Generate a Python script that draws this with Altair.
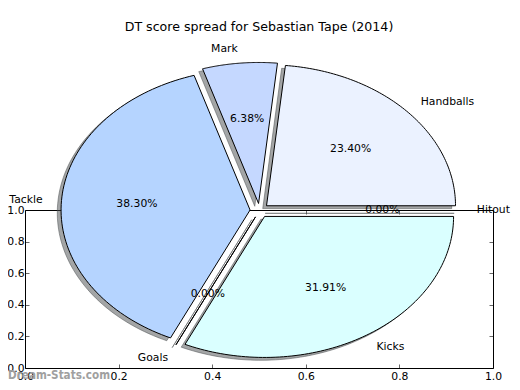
import altair as alt
import pandas as pd

# ---- data ----
labels = ["Handballs", "Mark", "Tackle", "Goals", "Kicks", "Hitout"]
values = [11, 3, 18, 0, 15, 0]
colors = ["#ebf2ff", "#c5d8ff", "#b5d4ff", "#c0d8ff", "#daffff", "#e0ecff"]
frame_ticks = [0.0, 0.2, 0.4, 0.6, 0.8, 1.0]
title_text = "DT score spread for Sebastian Tape (2014)"
watermark = "Dream-Stats.com"

N = 90  # arc samples per wedge
W, H = 468, 158
XD = [-1.2407, 1.2354]
YD = [-1.117, 0.0035]
FONT = "DejaVu Sans"
EXPLODE = 0.05

slices = pd.DataFrame({
    "label": labels,
    "value": values,
    "idx": list(range(len(labels))),
    "ks": [list(range(N + 3)) for _ in labels],
})

def base_tf(ch):
    return (ch.transform_joinaggregate(total="sum(value)")
              .transform_window(cum="sum(value)", sort=[alt.SortField("idx")], frame=[None, 0])
              .transform_calculate(
                  a0="2*PI*(datum.cum-datum.value)/datum.total",
                  a1="2*PI*datum.cum/datum.total")
              .transform_calculate(mid="(datum.a0+datum.a1)/2"))

xs = alt.Scale(domain=XD, nice=False, zero=False)
ys = alt.Scale(domain=YD, nice=False, zero=False)

def wedge_layer(dx, dy, shadow):
    ch = base_tf(alt.Chart(slices))
    ch = (ch.transform_flatten(["ks"], as_=["k"])
            .transform_calculate(
                t=f"clamp((datum.k-1)/{N},0,1)",
                r=f"(datum.k==0 || datum.k=={N+2}) ? 0 : 1")
            .transform_calculate(ang="datum.a0+(datum.a1-datum.a0)*datum.t")
            .transform_calculate(
                px=f"{EXPLODE}*cos(datum.mid)+datum.r*cos(datum.ang)+({dx})",
                py=f"{EXPLODE}*sin(datum.mid)+datum.r*sin(datum.ang)+({dy})"))
    if shadow:
        m = ch.mark_line(fill="#484c4d", fillOpacity=0.5, stroke="#484c4d",
                         strokeOpacity=0.5, strokeWidth=1, interpolate="linear")
        enc = dict(detail="label:N")
    else:
        m = ch.mark_line(stroke="black", strokeWidth=1, interpolate="linear")
        enc = dict(fill=alt.Fill("label:N", scale=alt.Scale(domain=labels, range=colors), legend=None),
                   detail="label:N")
    return m.encode(
        x=alt.X("px:Q", scale=xs, axis=None),
        y=alt.Y("py:Q", scale=ys, axis=None),
        order=alt.Order("k:Q"),
        **enc)

shadows = wedge_layer(-0.02, -0.02, True)
wedges = wedge_layer(0, 0, False)

def text_layer(dist, kind, align=None, flt=None):
    ch = base_tf(alt.Chart(slices)).transform_calculate(
        lx=f"{dist}*cos(datum.mid)", ly=f"{dist}*sin(datum.mid)",
        pct="format(100*datum.value/datum.total,'.2f')+'%'")
    if flt:
        ch = ch.transform_filter(flt)
    m = ch.mark_text(font=FONT, fontSize=10.8, color="black",
                     align=align or "center", baseline="middle")
    return m.encode(x=alt.X("lx:Q", scale=xs, axis=None),
                    y=alt.Y("ly:Q", scale=ys, axis=None),
                    text=alt.Text(f"{kind}:N"))

lab_left = text_layer(1.1 + EXPLODE, "label", "left", "datum.lx > 0")
lab_right = text_layer(1.1 + EXPLODE, "label", "right", "datum.lx <= 0")
pct = text_layer(0.6 + EXPLODE, "pct")

tick_df = pd.DataFrame({"v": frame_ticks})
fx = alt.Scale(domain=[0, 1], nice=False, zero=False)
common_axis = dict(tickSize=4, offset=-4, domain=False, grid=False, tickColor="black",
                   tickWidth=0.6, labelFont=FONT, labelFontSize=10.8, labelColor="black",
                   labelFlush=False, labelOverlap=False, values=frame_ticks, format=".1f",
                   title=None)
frame1 = alt.Chart(tick_df).mark_point(opacity=0).encode(
    x=alt.X("v:Q", scale=fx, axis=alt.Axis(orient="bottom", labelPadding=2, **common_axis)),
    y=alt.Y("v:Q", scale=fx, axis=alt.Axis(orient="left", labelPadding=1, **common_axis)),
)
frame2 = alt.Chart(tick_df).mark_point(opacity=0).encode(
    x=alt.X("v:Q", scale=fx, axis=alt.Axis(orient="top", labels=False, **common_axis)),
    y=alt.Y("v:Q", scale=fx, axis=alt.Axis(orient="right", labels=False, **common_axis)),
)

wm = alt.Chart(pd.DataFrame({"t": [watermark]})).mark_text(
    font="DejaVu Sans Condensed, Liberation Sans Narrow, DejaVu Sans", fontWeight="bold",
    fontSize=11.6, color="#a0a0a0", align="left", baseline="alphabetic"
).encode(x=alt.value(-17), y=alt.value(168.5), text="t:N")

chart = alt.layer(frame1, frame2, shadows, wedges, lab_left, lab_right, pct, wm).resolve_scale(
    x="independent", y="independent"
).resolve_axis(x="independent", y="independent").properties(
    width=W, height=H,
    title=alt.Title(title_text, font=FONT, fontSize=12.6, fontWeight="normal",
                    anchor="middle", color="black", offset=10),
    autosize=alt.AutoSizeParams(type="none"),
    padding={"left": 17, "top": 202, "right": 19, "bottom": 14},
).configure_view(stroke="black", strokeWidth=1)

chart.save("out.html", embed_options={"renderer": "svg", "actions": False})
